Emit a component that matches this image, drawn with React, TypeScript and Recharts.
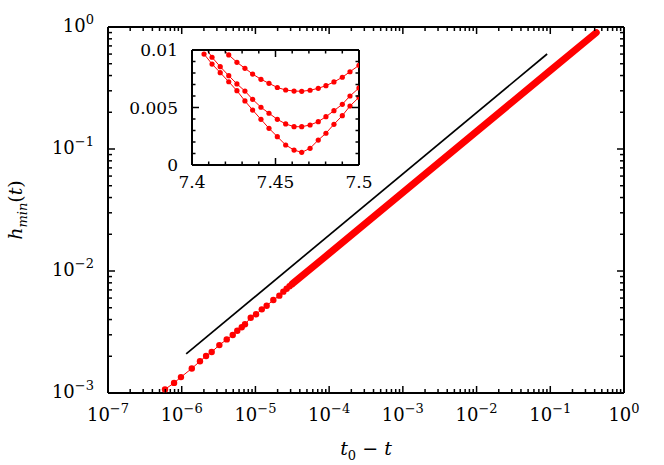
import { LineChart, Line, XAxis, YAxis } from 'recharts';

const FONT = "'DejaVu Serif', serif";
const RED = '#ff0000';

// main panel, red simulation points (t0 - t, h_min), sparse part with visible markers
const sparseT = [
  5.93e-7, 7.87e-7, 9.77e-7, 1.37e-6, 1.77e-6, 2.14e-6, 2.55e-6, 3.24e-6, 4.08e-6, 4.92e-6,
  5.67e-6, 6.52e-6, 7.22e-6, 8.63e-6, 1.02e-5, 1.22e-5, 1.42e-5, 1.75e-5, 2.11e-5, 2.39e-5,
  2.65e-5, 2.9e-5, 3.1e-5,
];
const sparseH = [
  1.07e-3, 1.21e-3, 1.35e-3, 1.59e-3, 1.82e-3, 2.01e-3, 2.17e-3, 2.47e-3, 2.75e-3, 2.99e-3,
  3.24e-3, 3.46e-3, 3.66e-3, 4.14e-3, 4.42e-3, 4.85e-3, 5.19e-3, 5.78e-3, 6.28e-3, 6.77e-3,
  7.15e-3, 7.5e-3, 7.75e-3,
];
// markers merge into a solid band from here on
const denseT = [3.2e-5, 1e-4, 1e-3, 1e-2, 0.1, 0.42];
const denseH = [7.9e-3, 0.0139, 0.044, 0.139, 0.44, 0.9];
// black guide line (slope 1/2)
const guideT = [1.15e-6, 0.0906];
const guideH = [2.09e-3, 0.601];

const xDecades = [1e-7, 1e-6, 1e-5, 1e-4, 1e-3, 1e-2, 1e-1, 1];
const yDecades = [1e-3, 1e-2, 1e-1, 1];

// inset: three curves near the minimum
const insetX = [
  7.4072, 7.412, 7.4169, 7.422, 7.4269, 7.4317, 7.4363, 7.4413, 7.4461, 7.4511,
  7.4561, 7.4611, 7.4657, 7.4707, 7.4756, 7.4802, 7.485, 7.49, 7.4946, 7.5,
];
const insetLow = [
  0.00965, 0.00878, 0.00803, 0.00724, 0.00646, 0.00557, 0.00478, 0.00397, 0.00319, 0.00246,
  0.00174, 0.0013, 0.0011, 0.00145, 0.00217, 0.00276, 0.00354, 0.00429, 0.00513, 0.00589,
];
const insetMid = [
  0.0104, 0.00937, 0.00855, 0.00777, 0.00705, 0.00643, 0.00571, 0.00502, 0.0045, 0.00397,
  0.00357, 0.00333, 0.00333, 0.00348, 0.00377, 0.0042, 0.00472, 0.00528, 0.006, 0.0067,
];
const insetHigh = [
  null, null, 0.0103, 0.00957, 0.00893, 0.00841, 0.00791, 0.00745, 0.0071, 0.00674,
  0.00652, 0.00643, 0.00641, 0.0065, 0.00667, 0.0069, 0.00722, 0.00763, 0.00811, 0.00867,
];
const insetXTicks = [7.4, 7.41, 7.42, 7.43, 7.44, 7.45, 7.46, 7.47, 7.48, 7.49, 7.5];
const insetXLabels = ['7.4', '7.45', '7.5'];
const insetYTicks = [0, 0.001, 0.002, 0.003, 0.004, 0.005, 0.006, 0.007, 0.008, 0.009, 0.01];
const insetYLabels = ['0', '0.005', '0.01'];

const withMinors = (decades: number[]) => {
  const out: number[] = [];
  decades.forEach((d, i) => {
    out.push(d);
    if (i < decades.length - 1) for (let k = 2; k <= 9; k++) out.push(k * d);
  });
  return out;
};
const xTicks = withMinors(xDecades);
const yTicks = withMinors(yDecades);

const pairs = (xs: number[], ys: (number | null)[], kx: string, ky: string) =>
  xs.map((x, i) => ({ [kx]: x, [ky]: ys[i] }));

const sparseData = pairs(sparseT, sparseH, 't', 'h');
const denseData = pairs(denseT, denseH, 't', 'h');
const guideData = pairs(guideT, guideH, 't', 'h');
const lowData = pairs(insetX, insetLow, 'x', 'y');
const midData = pairs(insetX, insetMid, 'x', 'y');
const highData = pairs(insetX, insetHigh, 'x', 'y');

const isDecade = (v: number) => Math.abs(Math.log10(v) - Math.round(Math.log10(v))) < 1e-6;
const expText = (v: number) => {
  const e = Math.round(Math.log10(v));
  return e < 0 ? '\u2212' + Math.abs(e) : String(e);
};

type Side = 'bottom' | 'top' | 'left' | 'right';
const txtStyle = { fontFamily: FONT };

const tickLine = (side: Side, x: number, y: number, len: number) => {
  const dx = side === 'left' ? len : side === 'right' ? -len : 0;
  const dy = side === 'bottom' ? -len : side === 'top' ? len : 0;
  return <line x1={x} y1={y} x2={x + dx} y2={y + dy} stroke="#000" strokeWidth={1.5} />;
};

const logTick = (side: Side) => (props: any) => {
  const { x, y, payload } = props;
  const v = payload.value;
  const major = isDecade(v);
  let label = null;
  if (major && side === 'bottom') {
    label = (
      <text x={x} y={y + 28} textAnchor="middle" style={txtStyle} fontSize={18} fill="#000">
        10<tspan dy={-8} fontSize={13}>{expText(v)}</tspan>
      </text>
    );
  }
  if (major && side === 'left') {
    label = (
      <text x={x - 14} y={y + 5} textAnchor="end" style={txtStyle} fontSize={18} fill="#000">
        10<tspan dy={-8} fontSize={13}>{expText(v)}</tspan>
      </text>
    );
  }
  return (
    <g>
      {tickLine(side, x, y, major ? 7 : 4)}
      {label}
    </g>
  );
};

const linTick = (side: Side, labels: string[]) => (props: any) => {
  const { x, y, payload } = props;
  const v = payload.value as number;
  const txt = labels.find((l) => Math.abs(parseFloat(l) - v) < 1e-9);
  const major = txt !== undefined;
  let label = null;
  if (major && side === 'bottom') {
    label = (
      <text x={x} y={y + 23} textAnchor="middle" style={txtStyle} fontSize={17} fill="#000">
        {txt}
      </text>
    );
  }
  if (major && side === 'left') {
    label = (
      <text x={x - 14} y={y + 6} textAnchor="end" style={txtStyle} fontSize={17} fill="#000">
        {txt}
      </text>
    );
  }
  return (
    <g>
      {tickLine(side, x, y, major ? 7 : 3.5)}
      {label}
    </g>
  );
};

const frame = { stroke: '#000', strokeWidth: 2 };
const axisCommon = {
  type: 'number' as const,
  allowDataOverflow: true,
  interval: 0 as const,
  tickSize: 0,
  tickMargin: 0,
  tickLine: false,
  axisLine: frame,
};

export default function App() {
  return (
    <div style={{ position: 'absolute', left: 0, top: 0, width: 664, height: 465, background: '#fff' }}>
      <LineChart width={664} height={465} margin={{ top: 26, right: 39, bottom: 71, left: 107 }}>
        <XAxis {...axisCommon} dataKey="t" scale="log" domain={[1e-7, 1]} ticks={xTicks} height={1} tick={logTick('bottom')} />
        <XAxis {...axisCommon} xAxisId="top" orientation="top" dataKey="t" scale="log" domain={[1e-7, 1]} ticks={xTicks} height={1} tick={logTick('top')} />
        <YAxis {...axisCommon} dataKey="h" scale="log" domain={[1e-3, 1]} ticks={yTicks} width={1} tick={logTick('left')} />
        <YAxis {...axisCommon} yAxisId="right" orientation="right" dataKey="h" scale="log" domain={[1e-3, 1]} ticks={yTicks} width={1} tick={logTick('right')} />
        <Line
          data={guideData}
          dataKey="h"
          stroke="#000"
          strokeWidth={1.7}
          dot={false}
          isAnimationActive={false}
        />
        <Line
          data={denseData}
          dataKey="h"
          stroke={RED}
          strokeWidth={7}
          strokeLinecap="round"
          dot={false}
          isAnimationActive={false}
        />
        <Line
          data={sparseData}
          dataKey="h"
          stroke={RED}
          strokeWidth={1}
          dot={{ r: 3.2, fill: RED, stroke: 'none' }}
          isAnimationActive={false}
        />
      </LineChart>

      <div style={{ position: 'absolute', left: 110, top: 40 }}>
        <LineChart width={270} height={160} margin={{ top: 9, right: 20, bottom: 34, left: 81 }}>
          <XAxis {...axisCommon} dataKey="x" domain={[7.4, 7.5]} ticks={insetXTicks} height={1} tick={linTick('bottom', insetXLabels)} />
          <XAxis {...axisCommon} xAxisId="top" orientation="top" dataKey="x" domain={[7.4, 7.5]} ticks={insetXTicks} height={1} tick={linTick('top', insetXLabels)} />
          <YAxis {...axisCommon} dataKey="y" domain={[0, 0.01]} ticks={insetYTicks} width={1} tick={linTick('left', insetYLabels)} />
          <YAxis {...axisCommon} yAxisId="right" orientation="right" dataKey="y" domain={[0, 0.01]} ticks={insetYTicks} width={1} tick={linTick('right', insetYLabels)} />
          {[lowData, midData, highData].map((d, i) => (
            <Line
              key={i}
              data={d}
              dataKey="y"
              stroke={RED}
              strokeWidth={1}
              dot={{ r: 2.6, fill: RED, stroke: 'none' }}
              isAnimationActive={false}
            />
          ))}
        </LineChart>
      </div>

      <svg width={664} height={465} style={{ position: 'absolute', left: 0, top: 0, pointerEvents: 'none' }}>
        <text x={366} y={455} textAnchor="middle" style={txtStyle} fontSize={19} fill="#000">
          <tspan fontStyle="italic">t</tspan>
          <tspan fontSize={13} dy={5}>0</tspan>
          <tspan dy={-5}>{' \u2212 '}</tspan>
          <tspan fontStyle="italic">t</tspan>
        </text>
        <text
          x={22}
          y={210}
          textAnchor="middle"
          style={txtStyle}
          fontSize={19}
          fill="#000"
          transform="rotate(-90 22 210)"
        >
          <tspan fontStyle="italic">h</tspan>
          <tspan fontStyle="italic" fontSize={13} dy={5}>min</tspan>
          <tspan dy={-5}>(</tspan>
          <tspan fontStyle="italic">t</tspan>
          <tspan>)</tspan>
        </text>
      </svg>
    </div>
  );
}
